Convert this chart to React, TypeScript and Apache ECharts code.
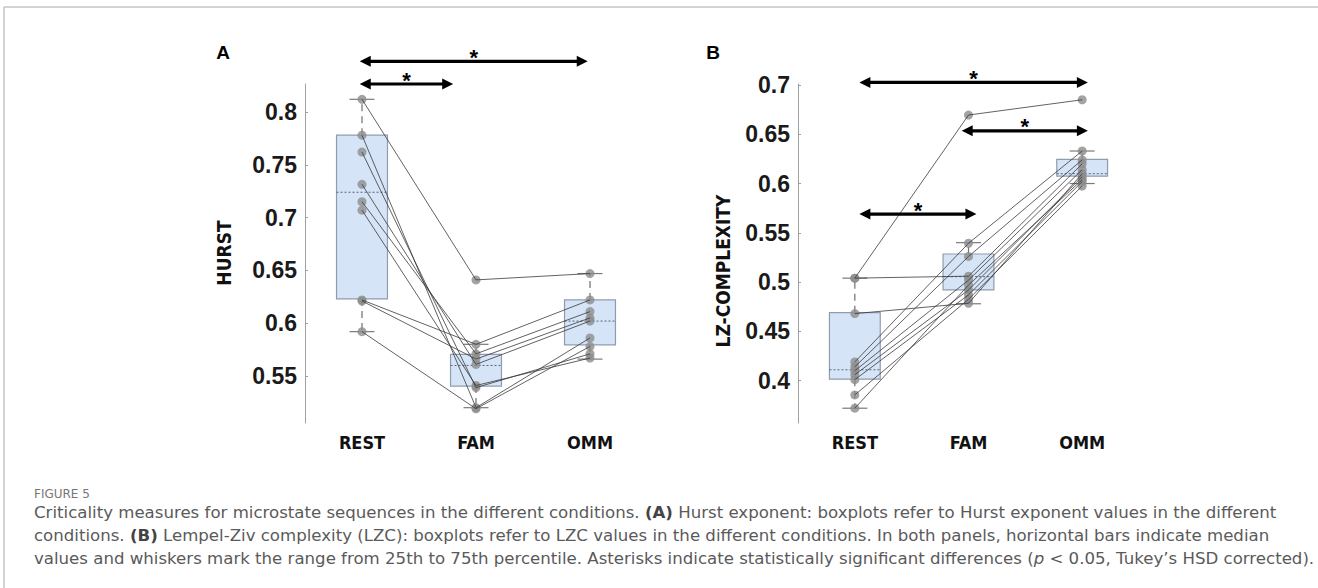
import React, { useEffect, useRef } from "react";
import * as echarts from "echarts";

const conditions = ["REST", "FAM", "OMM"];

// Panel A – Hurst exponent, one entry per subject
const hurstRest = [0.812, 0.778, 0.762, 0.7315, 0.715, 0.707, 0.622, 0.621, 0.592];
const hurstFam = [0.641, 0.52, 0.539, 0.561, 0.571, 0.541, 0.58, 0.566, 0.519];
const hurstOmm = [0.647, 0.586, 0.571, 0.602, 0.611, 0.567, 0.622, 0.605, 0.578];
// box stats per condition: [lower whisker, Q1, median, Q3, upper whisker]
const hurstBoxes = [
  [0.592, 0.623, 0.724, 0.778, 0.812],
  [0.52, 0.5405, 0.56, 0.5705, 0.58],
  [0.566, 0.5795, 0.602, 0.622, 0.647],
];
const hurstTicks = [0.55, 0.6, 0.65, 0.7, 0.75, 0.8];
// significance bars: [from condition, to condition, level]
const hurstSig = [
  [0.98, 2.98, 0.848],
  [0.98, 1.8, 0.8265],
];

// Panel B – Lempel-Ziv complexity, one entry per subject
const lzRest = [0.504, 0.504, 0.468, 0.419, 0.414, 0.41, 0.406, 0.401, 0.3855, 0.372];
const lzFam = [0.6695, 0.506, 0.4785, 0.5394, 0.526, 0.502, 0.492, 0.487, 0.4826, 0.497];
const lzOmm = [0.685, 0.62, 0.61, 0.633, 0.624, 0.614, 0.607, 0.602, 0.5975, 0.604];
const lzBoxes = [
  [0.372, 0.4015, 0.411, 0.469, 0.504],
  [0.478, 0.492, 0.5055, 0.5285, 0.54],
  [0.6, 0.6075, 0.61, 0.6245, 0.633],
];
const lzTicks = [0.4, 0.45, 0.5, 0.55, 0.6, 0.65, 0.7];
const lzSig = [
  [1.04, 3.05, 0.7026],
  [1.94, 3.05, 0.6535],
  [1.04, 2.07, 0.569],
];

const BOX_WIDTH = 0.447; // in category units
const CAP_HALF = 12.5; // px

const NARROW = '"Liberation Sans Narrow", "DejaVu Sans Condensed", "Arial Narrow", sans-serif';
const ARIAL = '"Liberation Sans", Arial, sans-serif';
const CAPTION = '"DejaVu Sans", "Open Sans", sans-serif';
const CAP_SIZE = 16.6;

function fmt(v: number) {
  return String(+Number(v).toFixed(3));
}

function panelSeries(
  idx: number,
  rest: number[],
  fam: number[],
  omm: number[],
  boxes: number[][],
  sig: number[][]
): any[] {
  const out: any[] = [];
  out.push({
    type: "custom",
    xAxisIndex: idx,
    yAxisIndex: idx,
    z: 2,
    silent: true,
    data: boxes.map((b, k) => [k + 1, ...b]),
    renderItem: (params: any, api: any) => {
      const x = api.value(0);
      const pLo = api.coord([x, api.value(1)]);
      const pQ1 = api.coord([x, api.value(2)]);
      const pMed = api.coord([x, api.value(3)]);
      const pQ3 = api.coord([x, api.value(4)]);
      const pHi = api.coord([x, api.value(5)]);
      const halfW = api.size([BOX_WIDTH, 0])[0] / 2;
      const cx = pLo[0];
      const dash = { stroke: "#6e6e6e", lineWidth: 1.2, lineDash: [7, 5] };
      const cap = { stroke: "#7a7a7a", lineWidth: 1.2 };
      return {
        type: "group",
        children: [
          { type: "line", shape: { x1: cx, y1: pQ3[1], x2: cx, y2: pHi[1] }, style: dash },
          { type: "line", shape: { x1: cx, y1: pQ1[1], x2: cx, y2: pLo[1] }, style: dash },
          { type: "line", shape: { x1: cx - CAP_HALF, y1: pHi[1], x2: cx + CAP_HALF, y2: pHi[1] }, style: cap },
          { type: "line", shape: { x1: cx - CAP_HALF, y1: pLo[1], x2: cx + CAP_HALF, y2: pLo[1] }, style: cap },
          {
            type: "rect",
            shape: { x: cx - halfW, y: pQ3[1], width: 2 * halfW, height: pQ1[1] - pQ3[1] },
            style: { fill: "#d5e4f7", stroke: "#8f9cae", lineWidth: 1.2 },
          },
          {
            type: "line",
            shape: { x1: cx - halfW, y1: pMed[1], x2: cx + halfW, y2: pMed[1] },
            style: { stroke: "#55647a", lineWidth: 1, lineDash: [2, 2] },
          },
        ],
      };
    },
  });
  const pts: number[][] = [];
  rest.forEach((r, k) => {
    pts.push([1, r], [2, fam[k]], [3, omm[k]]);
  });
  out.push({
    type: "scatter",
    xAxisIndex: idx,
    yAxisIndex: idx,
    z: 3,
    silent: true,
    symbolSize: 9,
    itemStyle: { color: "#8c8c8c" },
    data: pts,
  });
  rest.forEach((r, k) => {
    out.push({
      type: "line",
      xAxisIndex: idx,
      yAxisIndex: idx,
      z: 4,
      silent: true,
      symbol: "none",
      lineStyle: { color: "#3a3a3a", width: 0.8 },
      data: [
        [1, r],
        [2, fam[k]],
        [3, omm[k]],
      ],
    });
  });
  out.push({
    type: "custom",
    xAxisIndex: idx,
    yAxisIndex: idx,
    z: 5,
    clip: false,
    silent: true,
    data: sig,
    renderItem: (params: any, api: any) => {
      const y = api.value(2);
      const p1 = api.coord([api.value(0), y]);
      const p2 = api.coord([api.value(1), y]);
      const py = p1[1];
      const ah = 11;
      const hw = 5.5;
      return {
        type: "group",
        children: [
          {
            type: "line",
            shape: { x1: p1[0] + ah - 2, y1: py, x2: p2[0] - ah + 2, y2: py },
            style: { stroke: "#000", lineWidth: 3.2 },
          },
          {
            type: "polygon",
            shape: { points: [[p1[0], py], [p1[0] + ah, py - hw], [p1[0] + ah, py + hw]] },
            style: { fill: "#000" },
          },
          {
            type: "polygon",
            shape: { points: [[p2[0], py], [p2[0] - ah, py - hw], [p2[0] - ah, py + hw]] },
            style: { fill: "#000" },
          },
          {
            type: "text",
            x: (p1[0] + p2[0]) / 2,
            y: py - 4,
            style: {
              text: "*",
              font: "bold 22px " + ARIAL,
              fill: "#000",
              align: "center",
              verticalAlign: "middle",
            },
          },
        ],
      };
    },
  });
  return out;
}

function xAxis(idx: number) {
  return {
    type: "value",
    gridIndex: idx,
    min: 0.5,
    max: 3.5,
    axisLine: { show: false },
    axisTick: { show: false },
    splitLine: { show: false },
    axisLabel: {
      customValues: [1, 2, 3],
      formatter: (v: number) => conditions[Math.round(v) - 1],
      fontFamily: NARROW,
      fontWeight: "bold",
      fontSize: 18,
      color: "#111",
      margin: 10,
    },
  };
}

function yAxis(idx: number, min: number, max: number, ticks: number[]) {
  return {
    type: "value",
    gridIndex: idx,
    min,
    max,
    axisLine: { show: true, lineStyle: { color: "#a0a0a0", width: 1 } },
    axisTick: { show: true, inside: true, length: 3, customValues: ticks, lineStyle: { color: "#a0a0a0" } },
    splitLine: { show: false },
    axisLabel: {
      customValues: ticks,
      formatter: (v: number) => fmt(v),
      fontFamily: ARIAL,
      fontWeight: "bold",
      fontSize: 23,
      color: "#1a1a1a",
      margin: 8,
    },
  };
}

function buildOption() {
  const capStyle = {
    font: CAP_SIZE + "px " + CAPTION,
    fill: "#5a5a5a",
    align: "left",
    verticalAlign: "middle",
  } as any;
  const rich = {
    b: { fontWeight: "bold", fontFamily: CAPTION, fontSize: CAP_SIZE, fill: "#444" },
    i: { fontStyle: "italic", fontFamily: CAPTION, fontSize: CAP_SIZE, fill: "#5a5a5a" },
  };
  return {
    animation: false,
    backgroundColor: "#fff",
    grid: [
      { left: 305, top: 84, width: 342, height: 339 },
      { left: 798, top: 84, width: 341, height: 339 },
    ],
    xAxis: [xAxis(0), xAxis(1)],
    yAxis: [yAxis(0, 0.5055, 0.8265, hurstTicks), yAxis(1, 0.357, 0.701, lzTicks)],
    series: [
      ...panelSeries(0, hurstRest, hurstFam, hurstOmm, hurstBoxes, hurstSig),
      ...panelSeries(1, lzRest, lzFam, lzOmm, lzBoxes, lzSig),
    ],
    graphic: [
      { type: "line", shape: { x1: 4, y1: 7, x2: 1318, y2: 7 }, style: { stroke: "#c4c4c4", lineWidth: 1.5 } },
      { type: "line", shape: { x1: 4, y1: 7, x2: 4, y2: 588 }, style: { stroke: "#c4c4c4", lineWidth: 1.5 } },
      {
        type: "text",
        x: 223,
        y: 52,
        style: { text: "A", font: "bold 19px " + ARIAL, fill: "#000", align: "center", verticalAlign: "middle" },
      },
      {
        type: "text",
        x: 713,
        y: 52,
        style: { text: "B", font: "bold 19px " + ARIAL, fill: "#000", align: "center", verticalAlign: "middle" },
      },
      {
        type: "text",
        x: 224,
        y: 253,
        rotation: Math.PI / 2,
        style: { text: "HURST", font: "bold 19px " + NARROW, fill: "#111", align: "center", verticalAlign: "middle" },
      },
      {
        type: "text",
        x: 723,
        y: 271,
        rotation: Math.PI / 2,
        style: {
          text: "LZ-COMPLEXITY",
          font: "bold 19px " + NARROW,
          fill: "#111",
          align: "center",
          verticalAlign: "middle",
        },
      },
      {
        type: "text",
        x: 34,
        y: 494,
        style: { text: "FIGURE 5", font: "12px " + CAPTION, fill: "#777", align: "left", verticalAlign: "middle" },
      },
      {
        type: "text",
        x: 34,
        y: 512,
        style: {
          ...capStyle,
          rich,
          text:
            "Criticality measures for microstate sequences in the different conditions. {b|(A)} Hurst exponent: boxplots refer to Hurst exponent values in the different",
        },
      },
      {
        type: "text",
        x: 34,
        y: 535,
        style: {
          ...capStyle,
          rich,
          text:
            "conditions. {b|(B)} Lempel-Ziv complexity (LZC): boxplots refer to LZC values in the different conditions. In both panels, horizontal bars indicate median",
        },
      },
      {
        type: "text",
        x: 34,
        y: 558,
        style: {
          ...capStyle,
          rich,
          text:
            "values and whiskers mark the range from 25th to 75th percentile. Asterisks indicate statistically significant differences ({i|p} < 0.05, Tukey\u2019s HSD corrected).",
        },
      },
    ],
  };
}

export default function App() {
  const ref = useRef<HTMLDivElement>(null);
  useEffect(() => {
    document.body.style.margin = "0";
    const chart = echarts.init(ref.current!, null, { renderer: "svg" });
    chart.setOption(buildOption() as any);
    return () => chart.dispose();
  }, []);
  return <div ref={ref} style={{ width: 1318, height: 588 }} />;
}
